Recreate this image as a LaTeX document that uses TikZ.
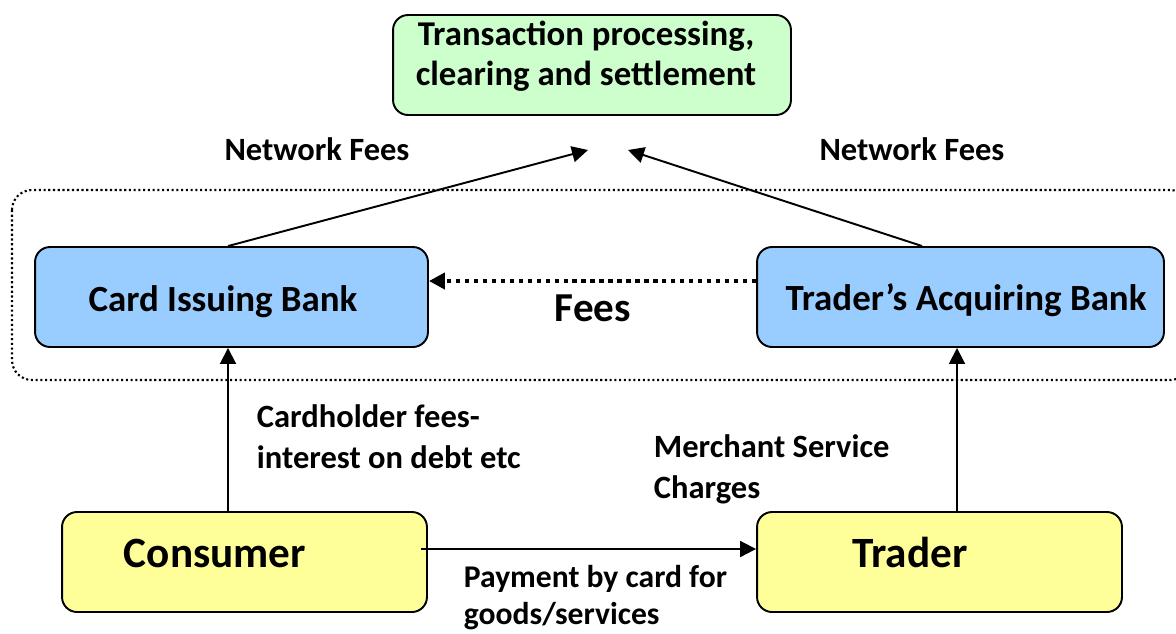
\documentclass[tikz,border=0pt]{standalone}
\usepackage{fontspec}
\setmainfont{Carlito}
\usetikzlibrary{arrows.meta}
\definecolor{procgreen}{HTML}{CCFFCC}
\definecolor{bankblue}{HTML}{99CCFF}
\definecolor{partyyellow}{HTML}{FFFF99}

\begin{document}
\begin{tikzpicture}[x=0.02cm,y=-0.02cm,>={Triangle[length=3.2mm,width=3.2mm]},font=\bfseries,line width=1.1pt,
  box/.style={draw,rounded corners=0.3cm,inner sep=0pt,line width=1.1pt},
  boxtxt/.style={inner sep=0pt,anchor=base},
  lbl/.style={inner sep=0pt,align=left,anchor=west,font=\bfseries\fontsize{18.5}{23.5}\selectfont},
  feesline/.style={line width=2.5pt,dash pattern=on 2.5pt off 2.6pt}]
\useasboundingbox (0,0) rectangle (1176,633);
% group of the two banks
\draw[line width=1.2pt,dash pattern=on 1.2pt off 1.5pt,rounded corners=0.4cm] (12,190) rectangle (1190,380);
% boxes
\node[box,fill=procgreen,minimum width=7.96cm,minimum height=2cm] (proc) at (592,65) {};
\node[inner sep=0pt,align=center,font=\bfseries\fontsize{19.8}{22.7}\selectfont] (proc-t) at (586,56) {Transaction processing,\\clearing and settlement};
\node[box,fill=bankblue,minimum width=7.86cm,minimum height=2cm] (cib) at (231.5,297) {};
\node[boxtxt,font=\bfseries\fontsize{21}{25}\selectfont] (cib-t) at (223,311) {Card Issuing Bank};
\node[box,fill=bankblue,minimum width=8.14cm,minimum height=2cm] (acq) at (960.5,297) {};
\node[boxtxt,font=\bfseries\fontsize{21}{25}\selectfont] (acq-t) at (966,310) {Trader’s Acquiring Bank};
\node[box,fill=partyyellow,minimum width=7.3cm,minimum height=2cm] (con) at (244.5,562) {};
\node[boxtxt,font=\bfseries\fontsize{24.6}{29}\selectfont] (con-t) at (215,567) {Consumer};
\node[box,fill=partyyellow,minimum width=7.3cm,minimum height=2cm] (trd) at (939.5,562) {};
\node[boxtxt,font=\bfseries\fontsize{24.6}{29}\selectfont] (trd-t) at (910,567) {Trader};
% tips of the network fee arrows
\coordinate (tipL) at (588,150);
\coordinate (tipR) at (628,150);
% connectors
\draw[->] ([xshift=-0.07cm]cib.north) -- (tipL);
\draw[->] ([xshift=-0.77cm]acq.north) -- (tipR);
\draw[feesline,->] ([yshift=0.32cm]acq.west) -- ([yshift=0.32cm]cib.east);
\draw[->] ([xshift=-0.07cm]cib.south |- con.north) -- ([xshift=-0.07cm]cib.south);
\draw[->] ([xshift=0.35cm]trd.north) -- ([xshift=-0.07cm]acq.south);
\draw[->] ([xshift=-0.14cm,yshift=0.26cm]con.east) -- ([yshift=0.26cm]trd.west);
% labels
\node[boxtxt,font=\bfseries\fontsize{18.5}{22}\selectfont] (nfL) at (317,160) {Network Fees};
\node[boxtxt,font=\bfseries\fontsize{18.5}{22}\selectfont] (nfR) at (912,160) {Network Fees};
\node[boxtxt,font=\bfseries\fontsize{23.4}{28}\selectfont] (fees) at (593,321) {Fees};
\node[lbl] (chf) at (256,437) {Cardholder fees-\\interest on debt etc};
\node[lbl] (msc) at (653,469) {Merchant Service\\Charges};
\node[lbl,font=\bfseries\fontsize{18}{21}\selectfont] (pay) at (463,598) {Payment by card for\\goods/services};
\end{tikzpicture}
\end{document}
